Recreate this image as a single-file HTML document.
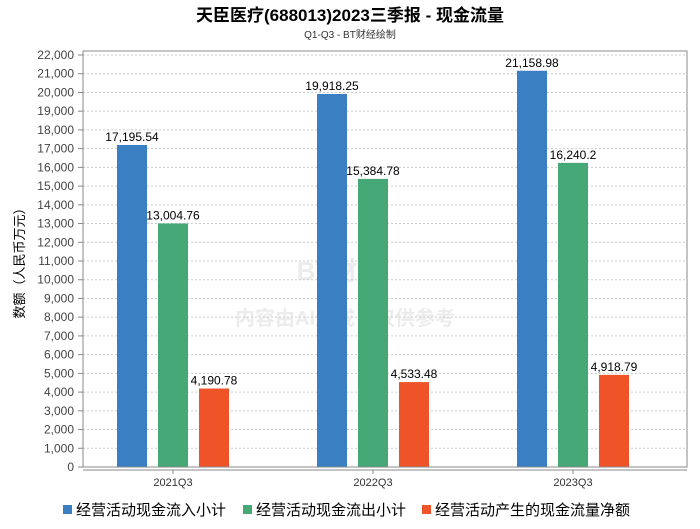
<!DOCTYPE html>
<html><head><meta charset="utf-8"><style>
body{margin:0;background:#fff;width:700px;height:524px;overflow:hidden;font-family:"Liberation Sans","Noto Sans CJK SC",sans-serif}
</style></head><body>
<svg id="c" width="700" height="524" xmlns="http://www.w3.org/2000/svg">
<text x="350" y="21" text-anchor="middle" font-size="17" font-weight="bold" fill="#000">天臣医疗(688013)2023三季报 - 现金流量</text>
<text x="350" y="38" text-anchor="middle" font-size="10" fill="#333">Q1-Q3 - BT财经绘制</text>
<text x="340" y="280" text-anchor="middle" font-size="26" font-weight="bold" fill="#ececec">BT财经</text>
<text x="345" y="325" text-anchor="middle" font-size="20" font-weight="bold" fill="#ececec">内容由AI生成，仅供参考</text>
<text transform="translate(24,260) rotate(-90)" text-anchor="middle" font-size="13" fill="#000">数额（人民币万元）</text>
<g id="grid"></g><g id="bars"></g>
<rect x="83" y="51" width="604" height="416" fill="none" stroke="#888"/>
<line x1="83" y1="470" x2="687" y2="470" stroke="#888"/>
<g font-size="15">
<rect x="63" y="505" width="9" height="9" fill="#3a7fc1"/>
<text x="76" y="515">经营活动现金流入小计</text>
<rect x="243" y="505" width="9" height="9" fill="#45a876"/>
<text x="256" y="515">经营活动现金流出小计</text>
<rect x="422" y="505" width="9" height="9" fill="#ee5427"/>
<text x="435" y="515">经营活动产生的现金流量净额</text>
</g>
</svg>
<script>
const categories=["2021Q3","2022Q3","2023Q3"];
const inflow=[17195.54,19918.25,21158.98];
const outflow=[13004.76,15384.78,16240.2];
const net=[4190.78,4533.48,4918.79];
const yTicks=[0,1000,2000,3000,4000,5000,6000,7000,8000,9000,10000,11000,12000,13000,14000,15000,16000,17000,18000,19000,20000,21000,22000];
const NS="http://www.w3.org/2000/svg";
const y=v=>467-v*(412/22000);
const x=i=>173+i*200;
function mk(t,a,p,txt){const e=document.createElementNS(NS,t);for(const k in a)e.setAttribute(k,a[k]);if(txt!==undefined)e.textContent=txt;p.appendChild(e);return e;}
const g=document.getElementById('grid'),b=document.getElementById('bars');
yTicks.forEach(v=>{
 if(v>0){const l=mk('line',{x1:83,x2:687,y1:y(v),y2:y(v),stroke:'#ccc','stroke-dasharray':'2,2'},g);
 
 }
 const tk=mk('line',{x1:78,x2:83,y1:y(v),y2:y(v),stroke:'#888'},g);
 
 
 const t=mk('text',{x:74,y:y(v)+4,'text-anchor':'end','font-size':12,fill:'#444'},g,v.toLocaleString('en-US'));
 
 
});
const series=[[inflow,'#3a7fc1',-41,'inflow'],[outflow,'#45a876',0,'outflow'],[net,'#ee5427',41,'net']];
categories.forEach((c,i)=>{
 const t=mk('text',{x:x(i),y:486,'text-anchor':'middle','font-size':11,fill:'#333'},g,c);
 
 
 const tk=mk('line',{x1:x(i),x2:x(i),y1:470,y2:474,stroke:'#888'},g);
 
 
 series.forEach(([arr,col,off,nm])=>{
  const v=arr[i],cx=x(i)+off;
  const r=mk('rect',{x:cx-15,y:y(v),width:30,height:467-y(v),fill:col},b);
  
  
  const l=mk('text',{x:cx,y:y(v)-4,'text-anchor':'middle','font-size':12,fill:'#000'},b,v.toLocaleString('en-US',{maximumFractionDigits:2}));
  
  
 });
});
</script>
</body></html>
